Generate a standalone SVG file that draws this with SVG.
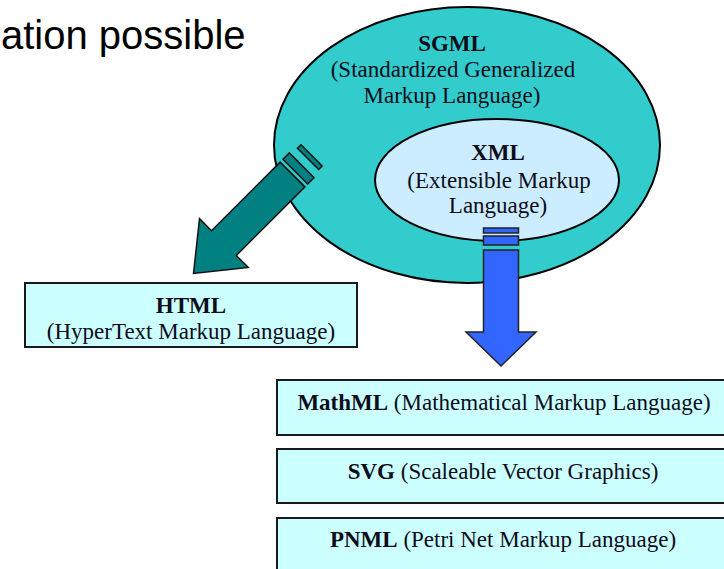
<svg xmlns="http://www.w3.org/2000/svg" width="724" height="569" viewBox="0 0 724 569">
<style>
.t{font-family:"Liberation Serif","Times New Roman",serif;font-size:23px;fill:#0d0d1a;text-anchor:middle}
.b{font-weight:bold}
.box{fill:#CCFFFF;stroke:#1a1a1a;stroke-width:2}
.ell{stroke:#000;stroke-width:2}
.teal{fill:#008080;stroke:#111;stroke-width:1.5;stroke-linejoin:miter}
.blue{fill:#3366FF;stroke:#222;stroke-width:1.5}
</style>
<rect width="724" height="569" fill="#fff"/>
<text x="1" y="49" font-family="'Liberation Sans',Arial,sans-serif" font-size="40" fill="#000">ation possible</text>
<g id="sgml">
<ellipse class="ell" cx="467" cy="145" rx="193" ry="138" fill="#33CCCC"/>
<text class="t b" x="452" y="51">SGML</text>
<text class="t" x="453" y="77">(Standardized Generalized</text>
<text class="t" x="452" y="103">Markup Language)</text>
</g>
<g id="xml">
<ellipse class="ell" cx="497" cy="180" rx="122" ry="61" fill="#CCECFF"/>
<text class="t b" x="498" y="160">XML</text>
<text class="t" x="499" y="188">(Extensible Markup</text>
<text class="t" x="498" y="213">Language)</text>
</g>
<g id="connectors">
<g transform="translate(292.5,174.5) rotate(135)">
<polygon class="teal" points="0,-17.5 97,-17.5 97,-34.5 140,0 97,34.5 97,17.5 0,17.5"/>
<rect class="teal" x="-13" y="-17.5" width="9" height="35"/>
<rect class="teal" x="-27" y="-15" width="5" height="30"/>
</g>
<g>
<polygon class="blue" points="483.5,250 518.5,250 518.5,332 536,332 501,366 466,332 483.5,332"/>
<rect class="blue" x="483.5" y="236" width="35" height="9"/>
<rect class="blue" x="483.5" y="228" width="35" height="5"/>
</g>
</g>
<g id="html">
<rect class="box" x="25" y="283" width="332" height="64"/>
<text class="t b" x="191" y="313">HTML</text>
<text class="t" x="191" y="339">(HyperText Markup Language)</text>
</g>
<g id="mathml">
<rect class="box" x="277" y="380" width="455" height="55"/>
<text class="t" x="504" y="410"><tspan class="b">MathML</tspan> (Mathematical Markup Language)</text>
</g>
<g id="svg">
<rect class="box" x="277" y="449" width="455" height="54"/>
<text class="t" x="503" y="479"><tspan class="b">SVG</tspan> (Scaleable Vector Graphics)</text>
</g>
<g id="pnml">
<rect class="box" x="277" y="518" width="455" height="60"/>
<text class="t" x="503" y="547"><tspan class="b">PNML</tspan> (Petri Net Markup Language)</text>
</g>
</svg>
